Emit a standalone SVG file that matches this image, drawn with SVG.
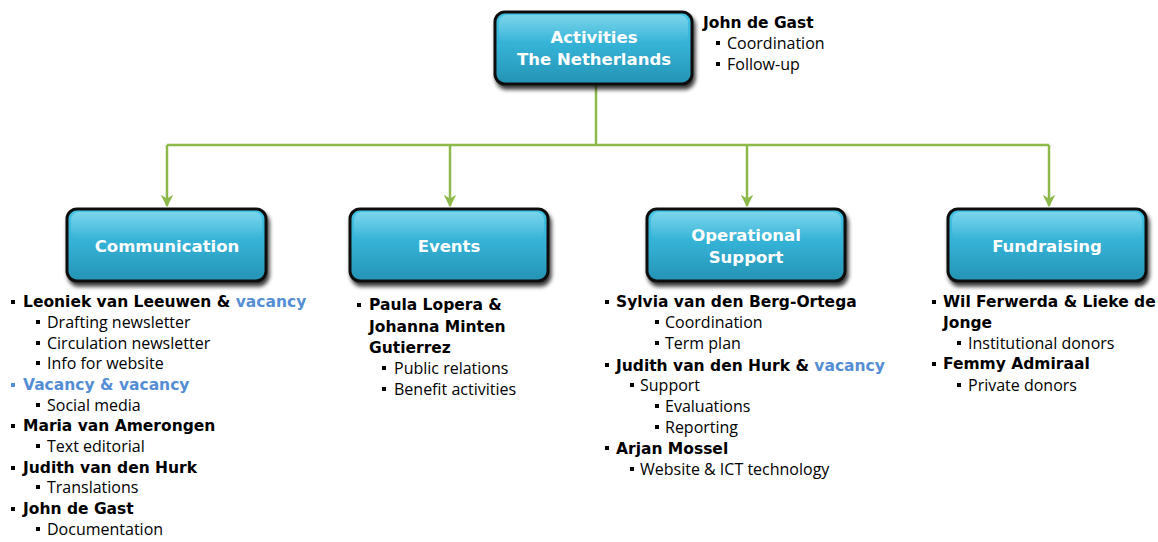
<svg xmlns="http://www.w3.org/2000/svg" width="1158" height="542" viewBox="0 0 1158 542">
<defs>
<linearGradient id="boxfill" x1="0" y1="0" x2="0" y2="1">
<stop offset="0" stop-color="#44c4e4"/>
<stop offset="0.5" stop-color="#33b0d4"/>
<stop offset="1" stop-color="#2593b4"/>
</linearGradient>
<linearGradient id="gloss" x1="0" y1="0" x2="0" y2="1">
<stop offset="0" stop-color="#ffffff" stop-opacity="0.3"/>
<stop offset="1" stop-color="#ffffff" stop-opacity="0"/>
</linearGradient>
<filter id="shadow" x="-10%" y="-10%" width="120%" height="140%">
<feGaussianBlur in="SourceAlpha" stdDeviation="2"/>
<feOffset dx="2" dy="4" result="b"/>
<feComponentTransfer><feFuncA type="linear" slope="0.8"/></feComponentTransfer>
<feMerge><feMergeNode/><feMergeNode in="SourceGraphic"/></feMerge>
</filter>
<marker id="arrow" viewBox="0 0 10 10" refX="9" refY="5" markerWidth="5" markerHeight="5" orient="auto">
<path d="M0,0 L10,5 L0,10 L3,5 z" fill="#8db84a"/>
</marker>
</defs>
<style>
.box{fill:url(#boxfill);stroke:#111;stroke-width:3}
.gl{fill:url(#gloss)}
.bt{font-family:"DejaVu Sans",Verdana,sans-serif;font-weight:bold;font-size:16.5px;fill:#fff;text-anchor:middle}
.nm{font-family:"DejaVu Sans",Verdana,sans-serif;font-weight:bold;font-size:15.5px;fill:#000}
.it{font-family:"Open Sans","Liberation Sans",sans-serif;font-size:16px;fill:#000}
.vac{fill:#558ed5}
.bul{fill:#000}
.conn{fill:none;stroke:#8db84a;stroke-width:2.5}
</style>

<g id="connectors">
<path class="conn" d="M596,85 V145"/>
<path class="conn" d="M167,145 H1049"/>
<path class="conn" d="M167,145 V206" marker-end="url(#arrow)"/>
<path class="conn" d="M450,145 V206" marker-end="url(#arrow)"/>
<path class="conn" d="M747,145 V206" marker-end="url(#arrow)"/>
<path class="conn" d="M1049,145 V206" marker-end="url(#arrow)"/>
</g>

<g id="node-activities">
<rect class="box" x="495" y="12" width="197" height="72" rx="10" filter="url(#shadow)"/>
<rect class="gl" x="499" y="15" width="189" height="28" rx="8"/>
<text class="bt" x="594" y="43">Activities</text>
<text class="bt" x="594" y="65">The Netherlands</text>
</g>
<g id="label-activities">
<text class="nm" x="703" y="28" font-size="16">John de Gast</text>
<rect class="bul" x="716" y="41" width="4" height="4"/>
<text class="it" x="727" y="49">Coordination</text>
<rect class="bul" x="716" y="62" width="4" height="4"/>
<text class="it" x="727" y="70">Follow-up</text>
</g>

<g id="node-communication">
<rect class="box" x="67" y="209" width="199" height="72" rx="10" filter="url(#shadow)"/>
<rect class="gl" x="71" y="212" width="191" height="28" rx="8"/>
<text class="bt" x="167" y="252">Communication</text>
</g>
<g id="list-communication">
<rect class="bul" x="11" y="300" width="4" height="4"/>
<text class="nm" x="23" y="307">Leoniek van Leeuwen &amp; <tspan class="vac">vacancy</tspan></text>
<rect class="bul" x="36" y="320" width="4" height="4"/>
<text class="it" x="47" y="328">Drafting newsletter</text>
<rect class="bul" x="36" y="341" width="4" height="4"/>
<text class="it" x="47" y="349">Circulation newsletter</text>
<rect class="bul" x="36" y="361" width="4" height="4"/>
<text class="it" x="47" y="369">Info for website</text>
<rect class="vac" x="11" y="383" width="4" height="4"/>
<text class="nm vac" x="23" y="390">Vacancy &amp; vacancy</text>
<rect class="bul" x="36" y="403" width="4" height="4"/>
<text class="it" x="47" y="411">Social media</text>
<rect class="bul" x="11" y="424" width="4" height="4"/>
<text class="nm" x="23" y="431">Maria van Amerongen</text>
<rect class="bul" x="36" y="444" width="4" height="4"/>
<text class="it" x="47" y="452">Text editorial</text>
<rect class="bul" x="11" y="466" width="4" height="4"/>
<text class="nm" x="23" y="473">Judith van den Hurk</text>
<rect class="bul" x="36" y="485" width="4" height="4"/>
<text class="it" x="47" y="493">Translations</text>
<rect class="bul" x="11" y="507" width="4" height="4"/>
<text class="nm" x="23" y="514">John de Gast</text>
<rect class="bul" x="36" y="527" width="4" height="4"/>
<text class="it" x="47" y="535">Documentation</text>
</g>

<g id="node-events">
<rect class="box" x="350" y="209" width="198" height="72" rx="10" filter="url(#shadow)"/>
<rect class="gl" x="354" y="212" width="190" height="28" rx="8"/>
<text class="bt" x="449" y="252">Events</text>
</g>
<g id="list-events">
<rect class="bul" x="357" y="303" width="4" height="4"/>
<text class="nm" x="369" y="310">Paula Lopera &amp;</text>
<text class="nm" x="369" y="332">Johanna Minten</text>
<text class="nm" x="369" y="353">Gutierrez</text>
<rect class="bul" x="382" y="366" width="4" height="4"/>
<text class="it" x="394" y="374">Public relations</text>
<rect class="bul" x="382" y="387" width="4" height="4"/>
<text class="it" x="394" y="395">Benefit activities</text>
</g>

<g id="node-operational">
<rect class="box" x="647" y="209" width="198" height="72" rx="10" filter="url(#shadow)"/>
<rect class="gl" x="651" y="212" width="190" height="28" rx="8"/>
<text class="bt" x="746" y="241">Operational</text>
<text class="bt" x="746" y="263">Support</text>
</g>
<g id="list-operational">
<rect class="bul" x="605" y="300" width="4" height="4"/>
<text class="nm" x="616" y="307">Sylvia van den Berg-Ortega</text>
<rect class="bul" x="655" y="320" width="4" height="4"/>
<text class="it" x="665" y="328">Coordination</text>
<rect class="bul" x="655" y="341" width="4" height="4"/>
<text class="it" x="665" y="349">Term plan</text>
<rect class="bul" x="605" y="363" width="4" height="4"/>
<text class="nm" x="616" y="371">Judith van den Hurk &amp; <tspan class="vac">vacancy</tspan></text>
<rect class="bul" x="630" y="383" width="4" height="4"/>
<text class="it" x="640" y="391">Support</text>
<rect class="bul" x="655" y="404" width="4" height="4"/>
<text class="it" x="665" y="412">Evaluations</text>
<rect class="bul" x="655" y="425" width="4" height="4"/>
<text class="it" x="665" y="433">Reporting</text>
<rect class="bul" x="605" y="446" width="4" height="4"/>
<text class="nm" x="616" y="454">Arjan Mossel</text>
<rect class="bul" x="630" y="467" width="4" height="4"/>
<text class="it" x="640" y="475">Website &amp; ICT technology</text>
</g>

<g id="node-fundraising">
<rect class="box" x="948" y="209" width="198" height="72" rx="10" filter="url(#shadow)"/>
<rect class="gl" x="952" y="212" width="190" height="28" rx="8"/>
<text class="bt" x="1047" y="252">Fundraising</text>
</g>
<g id="list-fundraising">
<rect class="bul" x="932" y="300" width="4" height="4"/>
<text class="nm" x="943" y="307">Wil Ferwerda &amp; Lieke de</text>
<text class="nm" x="943" y="328">Jonge</text>
<rect class="bul" x="957" y="341" width="4" height="4"/>
<text class="it" x="968" y="349">Institutional donors</text>
<rect class="bul" x="932" y="362" width="4" height="4"/>
<text class="nm" x="943" y="369">Femmy Admiraal</text>
<rect class="bul" x="957" y="383" width="4" height="4"/>
<text class="it" x="968" y="391">Private donors</text>
</g>
</svg>
